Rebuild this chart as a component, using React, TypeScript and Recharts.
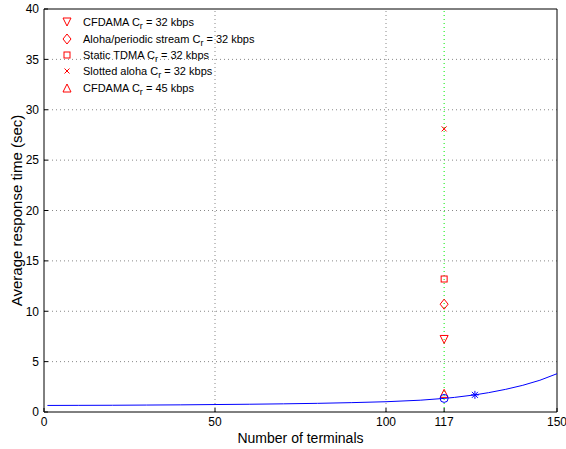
import {
  ComposedChart,
  Line,
  Scatter,
  XAxis,
  YAxis,
  CartesianGrid,
  ReferenceLine,
  Legend,
} from "recharts";

// blue curve: response time vs number of terminals
const terminals = [1, 10, 20, 30, 40, 50, 60, 70, 80, 90, 100, 110, 117, 120, 126, 130, 135, 140, 145, 150];
const responseTime = [0.65, 0.66, 0.67, 0.69, 0.71, 0.74, 0.77, 0.81, 0.86, 0.93, 1.02, 1.17, 1.35, 1.45, 1.7, 1.92, 2.25, 2.65, 3.15, 3.8];

// single-point markers at 117 terminals
const cfdama32 = [{ x: 117, y: 7.2 }];
const alohaPeriodic32 = [{ x: 117, y: 10.7 }];
const staticTdma32 = [{ x: 117, y: 13.2 }];
const slottedAloha32 = [{ x: 117, y: 28.1 }];
const cfdama45 = [{ x: 117, y: 1.85 }];
const blueCircle = [{ x: 117, y: 1.35 }];
const blueStar = [{ x: 126, y: 1.7 }];

const xTicks = [0, 50, 100, 117, 150];
const yTicks = [0, 5, 10, 15, 20, 25, 30, 35, 40];

const legendItems = [
  { name: "CFDAMA C", rate: " = 32 kbps", marker: "triDown" },
  { name: "Aloha/periodic stream C", rate: " = 32 kbps", marker: "diamond" },
  { name: "Static TDMA C", rate: " = 32 kbps", marker: "square" },
  { name: "Slotted aloha C", rate: " = 32 kbps", marker: "cross" },
  { name: "CFDAMA C", rate: " = 45 kbps", marker: "triUp" },
];

const curveData = terminals.map((t, i) => ({ x: t, y: responseTime[i] }));

const RED = "#ff0000";
const BLUE = "#0000ff";
const FONT = "'Liberation Sans', Arial, Helvetica, sans-serif";

function Marker({ kind, cx, cy, color = RED }: { kind: string; cx: number; cy: number; color?: string }) {
  const s = 4;
  const common = { fill: "none", stroke: color, strokeWidth: 1 };
  switch (kind) {
    case "triDown":
      return <polygon points={`${cx - s},${cy - s} ${cx + s},${cy - s} ${cx},${cy + s}`} {...common} />;
    case "triUp":
      return <polygon points={`${cx - s},${cy + s} ${cx + s},${cy + s} ${cx},${cy - s}`} {...common} />;
    case "diamond":
      return <polygon points={`${cx},${cy - 5} ${cx + 4},${cy} ${cx},${cy + 5} ${cx - 4},${cy}`} {...common} />;
    case "square":
      return <rect x={cx - 3} y={cy - 3} width={6} height={6} {...common} />;
    case "cross":
      return (
        <g {...common}>
          <line x1={cx - 2.5} y1={cy - 2.5} x2={cx + 2.5} y2={cy + 2.5} />
          <line x1={cx - 2.5} y1={cy + 2.5} x2={cx + 2.5} y2={cy - 2.5} />
        </g>
      );
    case "circle":
      return <circle cx={cx} cy={cy} r={s} {...common} />;
    case "star":
      return (
        <g {...common}>
          <line x1={cx - s} y1={cy} x2={cx + s} y2={cy} />
          <line x1={cx} y1={cy - s} x2={cx} y2={cy + s} />
          <line x1={cx - 3} y1={cy - 3} x2={cx + 3} y2={cy + 3} />
          <line x1={cx - 3} y1={cy + 3} x2={cx + 3} y2={cy - 3} />
        </g>
      );
    default:
      return null;
  }
}

const shapeOf = (kind: string, color = RED) => (props: any) =>
  <Marker kind={kind} cx={props.cx} cy={props.cy} color={color} />;

function LegendBox() {
  return (
    <div style={{ fontFamily: FONT, fontSize: 11, color: "#000", lineHeight: "12px" }}>
      {legendItems.map((item, i) => (
        <div key={i} style={{ display: "flex", alignItems: "center", height: 16.4 }}>
          <svg width={14} height={14} style={{ marginRight: 9 }}>
            <Marker kind={item.marker} cx={7} cy={7} />
          </svg>
          <span>
            {item.name}
            <sub style={{ fontSize: 9, verticalAlign: -3, lineHeight: 0 }}>r</sub>
            {item.rate}
          </span>
        </div>
      ))}
    </div>
  );
}

export default function App() {
  return (
    <div style={{ position: "absolute", left: 0, top: 0, background: "#fff" }}>
      <ComposedChart width={566} height={449} margin={{ top: 9, right: 9, bottom: 0, left: 0 }}>
        <CartesianGrid vertical={false} stroke="#888" strokeDasharray="1 3" horizontalValues={[5, 10, 15, 20, 25, 30, 35]} />
        <ReferenceLine x={50} stroke="#888" strokeDasharray="1 3" />
        <ReferenceLine x={100} stroke="#888" strokeDasharray="1 3" />
        <ReferenceLine x={117} stroke="#00ee00" strokeDasharray="1 3" />
        <ReferenceLine y={40} stroke="#000" />
        <ReferenceLine x={150} stroke="#000" />
        <XAxis
          type="number"
          dataKey="x"
          domain={[0, 150]}
          ticks={xTicks}
          interval={0}
          height={37}
          stroke="#000"
          tickSize={-4}
          tickMargin={9}
          tick={{ fill: "#000", fontSize: 12, fontFamily: FONT }}
          label={{ value: "Number of terminals", position: "insideBottom", offset: 6, fill: "#000", fontSize: 14, fontFamily: FONT }}
        />
        <YAxis
          type="number"
          dataKey="y"
          domain={[0, 40]}
          ticks={yTicks}
          interval={0}
          width={44}
          stroke="#000"
          tickSize={-4}
          tickMargin={9}
          tick={{ fill: "#000", fontSize: 12, fontFamily: FONT }}
          label={{ value: "Average response time (sec)", angle: -90, position: "insideLeft", offset: 17, style: { textAnchor: "middle" }, fill: "#000", fontSize: 15, fontFamily: FONT }}
        />
        <Legend
          layout="horizontal"
          verticalAlign="middle"
          align="center"
          content={() => <LegendBox />}
          wrapperStyle={{ position: "absolute", top: 14, left: 60, width: 260 }}
        />
        <Line data={curveData} dataKey="y" stroke={BLUE} strokeWidth={1} dot={false} isAnimationActive={false} legendType="none" />
        <Scatter data={cfdama32} dataKey="y" shape={shapeOf("triDown")} isAnimationActive={false} />
        <Scatter data={alohaPeriodic32} dataKey="y" shape={shapeOf("diamond")} isAnimationActive={false} />
        <Scatter data={staticTdma32} dataKey="y" shape={shapeOf("square")} isAnimationActive={false} />
        <Scatter data={slottedAloha32} dataKey="y" shape={shapeOf("cross")} isAnimationActive={false} />
        <Scatter data={cfdama45} dataKey="y" shape={shapeOf("triUp")} isAnimationActive={false} />
        <Scatter data={blueCircle} dataKey="y" shape={shapeOf("circle", BLUE)} isAnimationActive={false} />
        <Scatter data={blueStar} dataKey="y" shape={shapeOf("star", BLUE)} isAnimationActive={false} />
      </ComposedChart>
    </div>
  );
}
